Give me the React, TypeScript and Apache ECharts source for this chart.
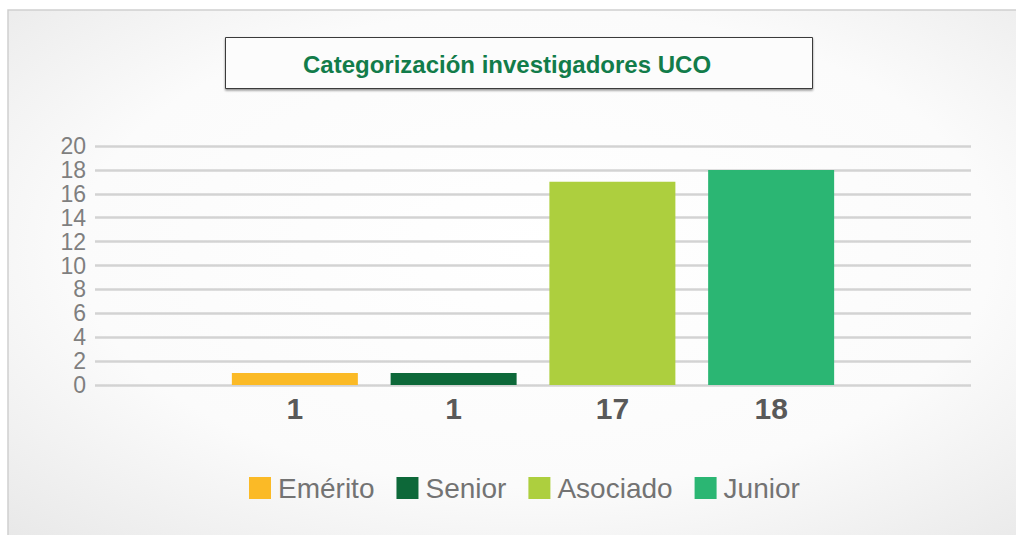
import React, { useEffect, useRef } from "react";
import * as echarts from "echarts";

const title = "Categorización investigadores UCO";
const categories = [""];
const seriesNames = ["Emérito", "Senior", "Asociado", "Junior"];
const seriesValues = [1, 1, 17, 18];
const seriesColors = ["#FBBA26", "#0D6839", "#ADCF3E", "#2BB673"];
const yMin = 0;
const yMax = 20;
const yInterval = 2;

export default function App() {
  const ref = useRef<HTMLDivElement>(null);
  useEffect(() => {
    if (!ref.current) return;
    const chart = echarts.init(ref.current, null, { renderer: "svg" });
    const option: any = {
      animation: false,
      graphic: [
        {
          type: "rect",
          z: -10,
          shape: { x: 8, y: 10, width: 1016, height: 530 },
          style: {
            fill: new echarts.graphic.RadialGradient(0.52, 0.45, 1.0, [
              { offset: 0, color: "#ffffff" },
              { offset: 0.45, color: "#fbfbfb" },
              { offset: 1, color: "#d9d9d9" },
            ]),
            stroke: "#cfcfcf",
            lineWidth: 1.5,
          },
        },
        {
          type: "rect",
          z: 5,
          shape: { x: 225.5, y: 37.5, width: 587, height: 51 },
          style: {
            fill: "#fcfcfc",
            stroke: "#3a3a3a",
            lineWidth: 1,
            shadowColor: "rgba(0,0,0,0.45)",
            shadowBlur: 2,
            shadowOffsetY: 1.5,
          },
        },
        {
          type: "text",
          z: 6,
          x: 507,
          y: 64,
          style: {
            text: title,
            fill: "#127C4A",
            font: "bold 24px 'Liberation Sans', Arial, sans-serif",
            align: "center",
            verticalAlign: "middle",
          },
        },
      ],
      grid: { left: 95, right: 45, top: 146, bottom: 150 },
      xAxis: {
        type: "category",
        data: categories,
        axisLine: { show: false },
        axisTick: { show: false },
        axisLabel: { show: false },
      },
      yAxis: {
        type: "value",
        min: yMin,
        max: yMax,
        interval: yInterval,
        axisLine: { show: false },
        axisTick: { show: false },
        axisLabel: {
          fontSize: 23,
          color: "#7f7f7f",
          fontFamily: "'Liberation Sans', Arial, sans-serif",
          margin: 9,
        },
        splitLine: { lineStyle: { color: "#d3d3d3", width: 2.5 } },
      },
      legend: {
        data: seriesNames,
        top: 469,
        left: 244,
        icon: "rect",
        itemWidth: 22,
        itemHeight: 22,
        itemGap: 22,
        textStyle: {
          fontSize: 28,
          color: "#737373",
          fontFamily: "'Liberation Sans', Arial, sans-serif",
          fontWeight: "lighter",
          padding: [0, 0, 0, 2],
        },
      },
      series: seriesNames.map((name, i) => ({
        name,
        type: "bar",
        data: [seriesValues[i]],
        barWidth: 126,
        barGap: "26%",
        itemStyle: { color: seriesColors[i] },
        label: {
          show: true,
          position: "bottom",
          distance: 8,
          fontSize: 30,
          fontWeight: "bold",
          color: "#595959",
          fontFamily: "'Liberation Sans', Arial, sans-serif",
        },
      })),
    };
    chart.setOption(option);
    return () => chart.dispose();
  }, []);
  return (
    <div
      ref={ref}
      style={{ position: "absolute", left: 0, top: 0, width: 1016, height: 535 }}
    />
  );
}
